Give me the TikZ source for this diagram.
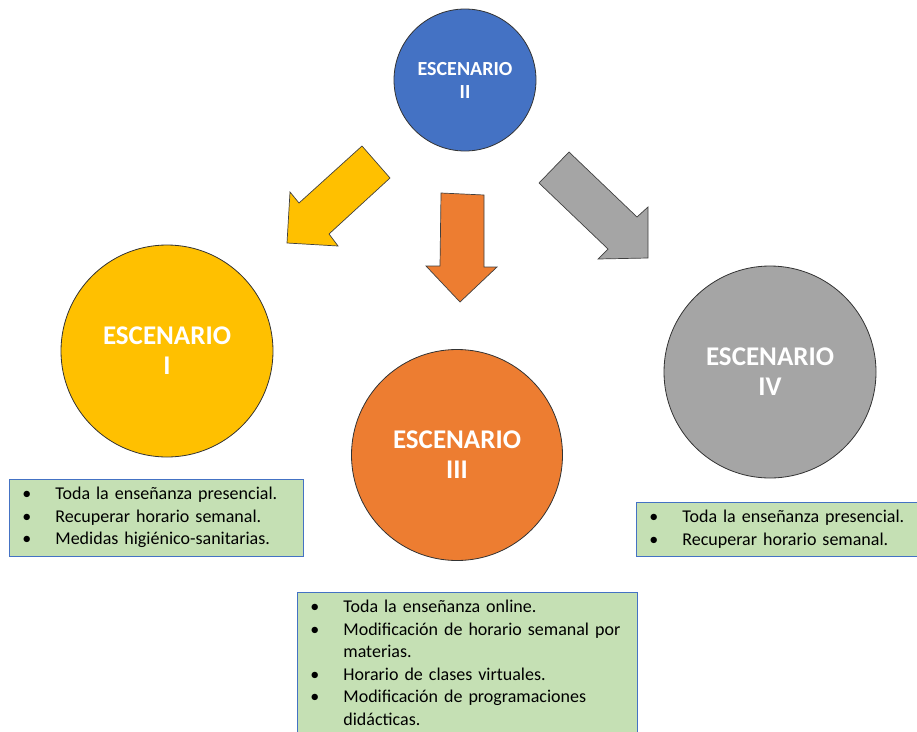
\documentclass[tikz,border=0pt]{standalone}
\usepackage{fontspec}
\setmainfont{Carlito}
\definecolor{escBlue}{HTML}{4472C4}
\definecolor{escYellow}{HTML}{FFC000}
\definecolor{escOrange}{HTML}{ED7D31}
\definecolor{escGray}{HTML}{A5A5A5}
\definecolor{escGreen}{HTML}{C5E0B4}
\newcommand{\itembullet}{\makebox[33pt][l]{\textbullet}}
\newcommand{\wrapindent}{\hspace*{33pt}}

\begin{document}
\begin{tikzpicture}[x=1pt,y=-1pt,
  escenario/.style={circle, draw=black!80, line width=0.8pt, text=white, align=center,
    font=\bfseries\fontsize{27}{30}\selectfont},
  infobox/.style={draw=escBlue, fill=escGreen, line width=0.8pt, anchor=north west,
    align=left, inner xsep=13pt, inner ysep=8pt, font=\fontsize{18}{22.5}\selectfont},
  blockarrow/.style={draw=black!75, line width=0.7pt, line join=miter}]
  \useasboundingbox (0,0) rectangle (917,731);

  % escenarios
  \node[escenario, fill=escBlue, minimum size=142pt,
    font=\bfseries\fontsize{20}{23}\selectfont] (escII) at (465,80) {ESCENARIO\\II};
  \node[escenario, fill=escYellow, minimum size=212pt] (escI) at (167,351) {ESCENARIO\\I};
  \node[escenario, fill=escOrange, minimum size=211pt] (escIII) at (457,455) {ESCENARIO\\III};
  \node[escenario, fill=escGray, minimum size=212pt] (escIV) at (770,372) {ESCENARIO\\IV};

  % flechas
  \draw[blockarrow, fill=escYellow] (362,146) -- (390,178) -- (329,234) -- (338,246)
    -- (287,243) -- (290,192) -- (299,203) -- cycle;
  \draw[blockarrow, fill=escOrange] (441,193) -- (484,195) -- (484,267) -- (497,267)
    -- (460,302) -- (426,266) -- (440,266) -- cycle;
  \draw[blockarrow, fill=escGray] (569,152) -- (539,183) -- (608,249) -- (598,259)
    -- (648,258) -- (648,207) -- (637,217) -- cycle;

  % medidas
  \node[infobox, text width=268pt] (boxI) at (9,479) {%
    \itembullet Toda la enseñanza presencial.\\
    \itembullet Recuperar horario semanal.\\
    \itembullet Medidas higiénico-sanitarias.};
  \node[infobox, text width=314pt] (boxIII) at (297,592) {%
    \itembullet Toda la enseñanza online.\\
    \itembullet Modificación de horario semanal por\\
    \wrapindent materias.\\
    \itembullet Horario de clases virtuales.\\
    \itembullet Modificación de programaciones\\
    \wrapindent didácticas.};
  \node[infobox, text width=290pt] (boxIV) at (636,502) {%
    \itembullet Toda la enseñanza presencial.\\
    \itembullet Recuperar horario semanal.};
\end{tikzpicture}
\end{document}
